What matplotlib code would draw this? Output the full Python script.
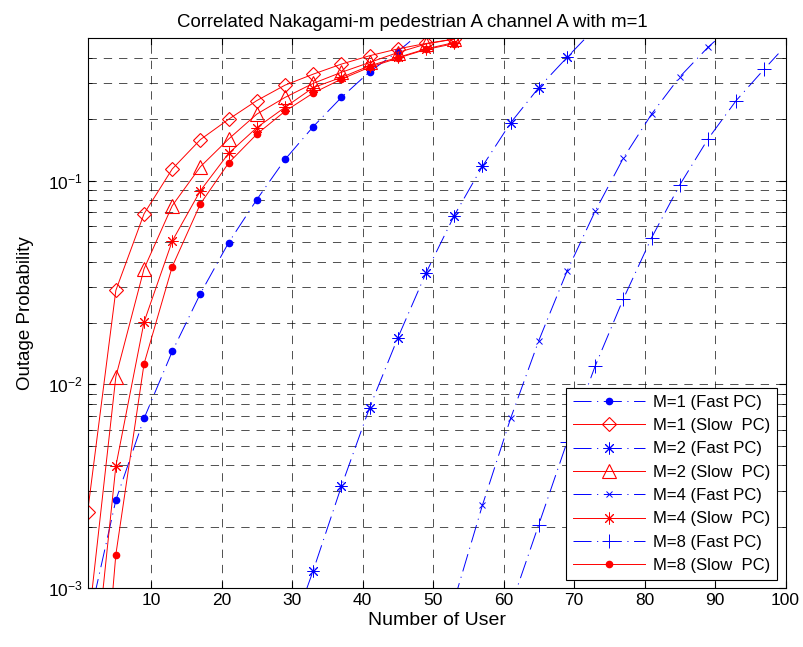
import numpy as np
import matplotlib
matplotlib.use('Agg')
import matplotlib.pyplot as plt
from matplotlib.ticker import LogLocator, NullFormatter

plt.rcParams['font.family'] = ['Liberation Sans', 'DejaVu Sans']
plt.rcParams['mathtext.default'] = 'regular'
plt.rcParams['lines.scale_dashes'] = False

# users sampled every 4 (markers sit on these)
users = np.arange(1, 101, 4)

# slow power control (red, solid)
slow_m1 = [0.00237, 0.0289, 0.0687, 0.114, 0.159, 0.200, 0.247, 0.294, 0.333,
           0.373, 0.410, 0.443, 0.471, 0.495]
slow_m2 = [0.00062, 0.0109, 0.0369, 0.0753, 0.117, 0.160, 0.212, 0.256, 0.300,
           0.340, 0.380, 0.425, 0.468, 0.495]
slow_m4 = [0.000186, 0.00396, 0.0202, 0.0505, 0.0893, 0.136, 0.182, 0.229,
           0.286, 0.321, 0.366, 0.402, 0.443, 0.476]
slow_m8 = [0.000033, 0.00146, 0.0126, 0.0378, 0.0769, 0.122, 0.169, 0.219,
           0.269, 0.315, 0.360, 0.399, 0.440, 0.470]

# fast power control (blue, dash-dot)
fast_m1 = [0.00065, 0.0027, 0.0068, 0.0145, 0.0279, 0.0496, 0.0807, 0.127,
           0.184, 0.256, 0.342, 0.430, 0.56]
fast_m2 = [0.0005, 0.00122, 0.00316, 0.00769, 0.0169, 0.0352, 0.0673, 0.1175,
           0.192, 0.286, 0.402, 0.56]
fast_m4 = [0.00087, 0.00255, 0.0068, 0.0164, 0.0359, 0.0708, 0.129, 0.212,
           0.323, 0.451, 0.6]
fast_m8 = [0.00081, 0.00205, 0.0052, 0.0123, 0.0263, 0.0524, 0.0953, 0.160,
           0.247, 0.353, 0.42]

x_slow = users[:14]
x_f1 = users[:13]
x_f2 = users[7:19]
x_f4 = users[13:24]
x_f8 = np.append(users[15:25], 99)

dashdot = (0, (13, 4, 0.8, 4))

fig, ax = plt.subplots(figsize=(8.04, 6.47), dpi=100)
fig.subplots_adjust(left=0.109, right=0.977, top=0.941, bottom=0.091)

lw = 0.7
ax.plot(x_f1, fast_m1, color='b', ls=dashdot, lw=lw, marker='o', ms=4.5,
        label='M=1 (Fast PC)')
ax.plot(x_slow, slow_m1, color='r', ls='-', lw=lw, marker='D', ms=7,
        mfc='none', mew=0.8, label='M=1 (Slow  PC)')
ax.plot(x_f2, fast_m2, color='b', ls=dashdot, lw=lw, marker=(8, 2, 0), ms=8.5,
        mew=0.7, label='M=2 (Fast PC)')
ax.plot(x_slow, slow_m2, color='r', ls='-', lw=lw, marker='^', ms=10,
        mfc='none', mew=0.8, label='M=2 (Slow  PC)')
ax.plot(x_f4, fast_m4, color='b', ls=dashdot, lw=lw, marker='x', ms=5,
        mew=0.7, label='M=4 (Fast PC)')
ax.plot(x_slow, slow_m4, color='r', ls='-', lw=lw, marker=(8, 2, 0), ms=8.5,
        mew=0.7, label='M=4 (Slow  PC)')
ax.plot(x_f8, fast_m8, color='b', ls=dashdot, lw=lw, marker='+', ms=10,
        mew=0.7, label='M=8 (Fast PC)', markevery=list(range(10)))
ax.plot(x_slow, slow_m8, color='r', ls='-', lw=lw, marker='o', ms=4.5,
        label='M=8 (Slow  PC)')

ax.set_yscale('log')
ax.set_xlim(1, 100)
ax.set_ylim(1e-3, 0.5)
ax.set_xticks(np.arange(10, 101, 10))
ax.yaxis.set_major_locator(LogLocator(base=10, numticks=10))
ax.yaxis.set_minor_locator(LogLocator(base=10, subs=np.arange(2, 10), numticks=20))
ax.yaxis.set_minor_formatter(NullFormatter())

grid_style = dict(color='k', ls=(0, (6, 5)), lw=0.6, alpha=0.8)
ax.grid(True, which='major', **grid_style)
ax.grid(True, which='minor', axis='y', **grid_style)
ax.set_axisbelow(True)

ax.tick_params(which='both', direction='in', top=True, right=True,
               labelsize=12.5)
ax.tick_params(which='major', length=5)
ax.tick_params(which='minor', length=3)
for s in ax.spines.values():
    s.set_linewidth(0.8)

ax.set_xlabel('Number of User', fontsize=14, labelpad=3)
ax.set_ylabel('Outage Probability', fontsize=13.5, labelpad=10)
ax.set_title('Correlated Nakagami-m pedestrian A channel A with m=1',
             fontsize=13.4, pad=8, x=0.465)

leg = ax.legend(loc='lower right', fontsize=12, handlelength=4.3,
                fancybox=False, edgecolor='k', framealpha=1,
                borderaxespad=0.5, labelspacing=0.5, handletextpad=0.5,
                borderpad=0.4)
leg.get_frame().set_linewidth(0.8)

fig.savefig('out.png', dpi=100)
